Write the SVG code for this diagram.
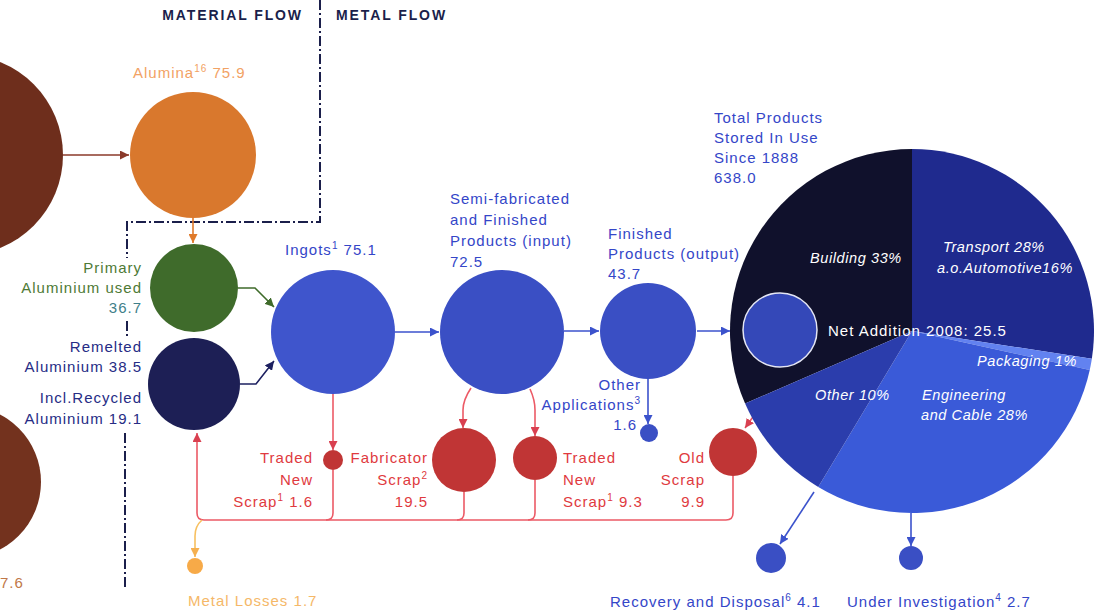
<svg xmlns="http://www.w3.org/2000/svg" width="1094" height="614" viewBox="0 0 1094 614">
<defs>
<style>
text{font-family:"Liberation Sans",Arial,sans-serif;font-size:15px;letter-spacing:1px}
.sup{font-size:10px}
.hdr{font-weight:bold;font-size:14px;fill:#1B1F4B;letter-spacing:1.9px}
.blue{fill:#3446C8}
.navy{fill:#262C85}
.green{fill:#4E7A36}
.red{fill:#E03A40}
.pie{fill:#FFFFFF;font-style:italic;font-size:14.5px;letter-spacing:0.6px}
.c{fill:none;stroke-width:1.6}
.cb{stroke:#3B52CC}
.cr{stroke:#EC5A66}
.dash{fill:none;stroke:#1B1F4B;stroke-width:2;stroke-dasharray:10,3,2,3}
</style>
<marker id="aBrown" markerUnits="userSpaceOnUse" markerWidth="9" markerHeight="9" refX="9" refY="4.5" orient="auto"><path d="M0,0 L9,4.5 L0,9 Z" fill="#8B3A2A"/></marker>
<marker id="aOrange" markerUnits="userSpaceOnUse" markerWidth="9" markerHeight="9" refX="9" refY="4.5" orient="auto"><path d="M0,0 L9,4.5 L0,9 Z" fill="#E07A2A"/></marker>
<marker id="aGreen" markerUnits="userSpaceOnUse" markerWidth="9" markerHeight="9" refX="9" refY="4.5" orient="auto"><path d="M0,0 L9,4.5 L0,9 Z" fill="#3F6B2B"/></marker>
<marker id="aNavy" markerUnits="userSpaceOnUse" markerWidth="9" markerHeight="9" refX="9" refY="4.5" orient="auto"><path d="M0,0 L9,4.5 L0,9 Z" fill="#1D2060"/></marker>
<marker id="aBlue" markerUnits="userSpaceOnUse" markerWidth="9" markerHeight="9" refX="9" refY="4.5" orient="auto"><path d="M0,0 L9,4.5 L0,9 Z" fill="#3B52CC"/></marker>
<marker id="aRed" markerUnits="userSpaceOnUse" markerWidth="9" markerHeight="9" refX="9" refY="4.5" orient="auto"><path d="M0,0 L9,4.5 L0,9 Z" fill="#D94050"/></marker>
<marker id="aYellow" markerUnits="userSpaceOnUse" markerWidth="9" markerHeight="9" refX="9" refY="4.5" orient="auto"><path d="M0,0 L9,4.5 L0,9 Z" fill="#F5B050"/></marker>
</defs>
<rect width="1094" height="614" fill="#FFFFFF"/>

<g id="boundary">
<text class="hdr" x="303" y="20" text-anchor="end">MATERIAL FLOW</text>
<text class="hdr" x="336" y="20">METAL FLOW</text>
<path class="dash" d="M320,0 V222 H127 V258"/>
<path class="dash" d="M127,321 V337"/>
<path class="dash" d="M125,433 V590"/>
</g>

<g id="connectors">
<path class="c" stroke="#8B3A2A" d="M63,155 H129" marker-end="url(#aBrown)"/>
<path class="c" stroke="#E07A2A" d="M193,218 V243" marker-end="url(#aOrange)"/>
<path class="c" stroke="#3F6B2B" d="M238,288 H255 L274,307" marker-end="url(#aGreen)"/>
<path class="c" stroke="#1D2060" d="M240,384 H256 L274,361" marker-end="url(#aNavy)"/>
<path class="c cb" d="M395,332 H439" marker-end="url(#aBlue)"/>
<path class="c cb" d="M564,331 H599" marker-end="url(#aBlue)"/>
<path class="c cb" d="M697,331 H730" marker-end="url(#aBlue)"/>
<path class="c cb" d="M648,379 V424" marker-end="url(#aBlue)"/>
<path class="c cb" d="M814,492 L780,544" marker-end="url(#aBlue)"/>
<path class="c cb" d="M911,513 V546" marker-end="url(#aBlue)"/>
<path class="c cr" d="M333,394 V450" marker-end="url(#aRed)"/>
<path class="c cr" d="M471,388 Q463,400 463,410 V428" marker-end="url(#aRed)"/>
<path class="c cr" d="M530,389 Q535,400 535,410 V436" marker-end="url(#aRed)"/>
<path class="c cr" d="M763,403 L745,428" marker-end="url(#aRed)"/>
<path class="c cr" d="M733,476 V513 Q733,520 726,520 H204 Q197,520 197,513 V433" marker-end="url(#aRed)"/>
<path class="c cr" d="M333,470 V513 Q333,520 326,520"/>
<path class="c cr" d="M464,492 V513 Q464,520 457,520"/>
<path class="c cr" d="M535,480 V513 Q535,520 528,520"/>
<path class="c" stroke="#F7C060" stroke-width="1.2" d="M202,520 Q195,526 195,536 V557" marker-end="url(#aYellow)"/>
</g>

<g id="bauxite-top">
<circle cx="-37" cy="155" r="100" fill="#6E2E1C"/>
</g>
<g id="bauxite-bottom">
<circle cx="-35" cy="482" r="76" fill="#73321E"/>
<text x="0" y="588" fill="#C07848">7.6</text>
</g>

<g id="alumina">
<circle cx="193" cy="155" r="63" fill="#D9782D"/>
<text x="133" y="78" fill="#F2A264">Alumina<tspan class="sup" dy="-6">16</tspan><tspan dy="6"> 75.9</tspan></text>
</g>

<g id="primary">
<circle cx="194" cy="288" r="44" fill="#3F6B2B"/>
<text class="green" x="142" y="273" text-anchor="end">Primary</text>
<text class="green" x="142" y="293" text-anchor="end">Aluminium used</text>
<text x="142" y="313" text-anchor="end" fill="#3F7F8A">36.7</text>
</g>

<g id="remelted">
<circle cx="194" cy="384" r="46" fill="#1D1F55"/>
<text class="navy" x="142" y="352" text-anchor="end">Remelted</text>
<text class="navy" x="142" y="372" text-anchor="end">Aluminium 38.5</text>
<text class="navy" x="142" y="403" text-anchor="end">Incl.Recycled</text>
<text class="navy" x="142" y="424" text-anchor="end">Aluminium 19.1</text>
</g>

<g id="ingots">
<circle cx="333" cy="332" r="62" fill="#3F55CC"/>
<text class="blue" x="285" y="255">Ingots<tspan class="sup" dy="-6">1</tspan><tspan dy="6"> 75.1</tspan></text>
</g>

<g id="semi">
<circle cx="502" cy="332" r="62" fill="#3A4FC4"/>
<text class="blue" x="450" y="204">Semi-fabricated</text>
<text class="blue" x="450" y="225">and Finished</text>
<text class="blue" x="450" y="246">Products (input)</text>
<text class="blue" x="450" y="267">72.5</text>
</g>

<g id="finished">
<circle cx="648" cy="331" r="48" fill="#3A4FC4"/>
<text class="blue" x="608" y="239">Finished</text>
<text class="blue" x="608" y="259">Products (output)</text>
<text class="blue" x="608" y="279">43.7</text>
</g>

<g id="other-applications">
<circle cx="649" cy="433" r="9" fill="#3A4FC4"/>
<text class="blue" x="641" y="390" text-anchor="end">Other</text>
<text class="blue" x="641" y="410" text-anchor="end">Applications<tspan class="sup" dy="-6">3</tspan></text>
<text class="blue" x="637" y="430" text-anchor="end">1.6</text>
</g>

<g id="stock">
<path d="M912,331 L745.09,403.57 A182,182 0 0 1 912,149 Z" fill="#10112C"/>
<path d="M912,331 L912,149 A182,182 0 0 1 1091.86,358.84 Z" fill="#1F2A8E"/>
<path d="M912,331 L1091.86,358.84 A182,182 0 0 1 1089.75,370.08 Z" fill="#6282F0"/>
<path d="M912,331 L1089.75,370.08 A182,182 0 0 1 818.26,487 Z" fill="#3A5AD8"/>
<path d="M912,331 L818.26,487 A182,182 0 0 1 745.09,403.57 Z" fill="#2B3DAC"/>
<circle cx="780" cy="330" r="37" fill="#3448B8" stroke="#E4E6F4" stroke-width="1.5"/>
<text x="828" y="336" fill="#FFFFFF" font-size="14" letter-spacing="0.9">Net Addition 2008: 25.5</text>
<text class="pie" x="810" y="263">Building 33%</text>
<text class="pie" x="943" y="252">Transport 28%</text>
<text class="pie" x="937" y="273">a.o.Automotive16%</text>
<text class="pie" x="977" y="366">Packaging 1%</text>
<text class="pie" x="815" y="400">Other 10%</text>
<text class="pie" x="922" y="400">Engineering</text>
<text class="pie" x="921" y="420">and Cable 28%</text>
<text class="blue" x="714" y="123">Total Products</text>
<text class="blue" x="714" y="143">Stored In Use</text>
<text class="blue" x="714" y="163">Since 1888</text>
<text class="blue" x="714" y="183">638.0</text>
</g>

<g id="traded-new-scrap-1">
<circle cx="333" cy="460" r="10" fill="#C03535"/>
<text class="red" x="313" y="463" text-anchor="end">Traded</text>
<text class="red" x="313" y="485" text-anchor="end">New</text>
<text class="red" x="313" y="507" text-anchor="end">Scrap<tspan class="sup" dy="-6">1</tspan><tspan dy="6"> 1.6</tspan></text>
</g>

<g id="fabricator-scrap">
<circle cx="464" cy="460" r="32" fill="#C03535"/>
<text class="red" x="428" y="463" text-anchor="end">Fabricator</text>
<text class="red" x="428" y="485" text-anchor="end">Scrap<tspan class="sup" dy="-6">2</tspan></text>
<text class="red" x="428" y="507" text-anchor="end">19.5</text>
</g>

<g id="traded-new-scrap-2">
<circle cx="535" cy="458" r="22" fill="#C03535"/>
<text class="red" x="563" y="463">Traded</text>
<text class="red" x="563" y="485">New</text>
<text class="red" x="563" y="507">Scrap<tspan class="sup" dy="-6">1</tspan><tspan dy="6"> 9.3</tspan></text>
</g>

<g id="old-scrap">
<circle cx="733" cy="452" r="24" fill="#C03535"/>
<text class="red" x="705" y="463" text-anchor="end">Old</text>
<text class="red" x="705" y="485" text-anchor="end">Scrap</text>
<text class="red" x="705" y="507" text-anchor="end">9.9</text>
</g>

<g id="metal-losses">
<circle cx="195" cy="566" r="8" fill="#F7AA48"/>
<text x="188" y="606" fill="#F5B868">Metal Losses 1.7</text>
</g>

<g id="recovery">
<circle cx="771" cy="558" r="15" fill="#3A4FC4"/>
<text class="blue" x="610" y="607">Recovery and Disposal<tspan class="sup" dy="-6">6</tspan><tspan dy="6"> 4.1</tspan></text>
</g>

<g id="under-investigation">
<circle cx="911" cy="558" r="12" fill="#3A4FC4"/>
<text class="blue" x="847" y="607">Under Investigation<tspan class="sup" dy="-6">4</tspan><tspan dy="6"> 2.7</tspan></text>
</g>
</svg>
